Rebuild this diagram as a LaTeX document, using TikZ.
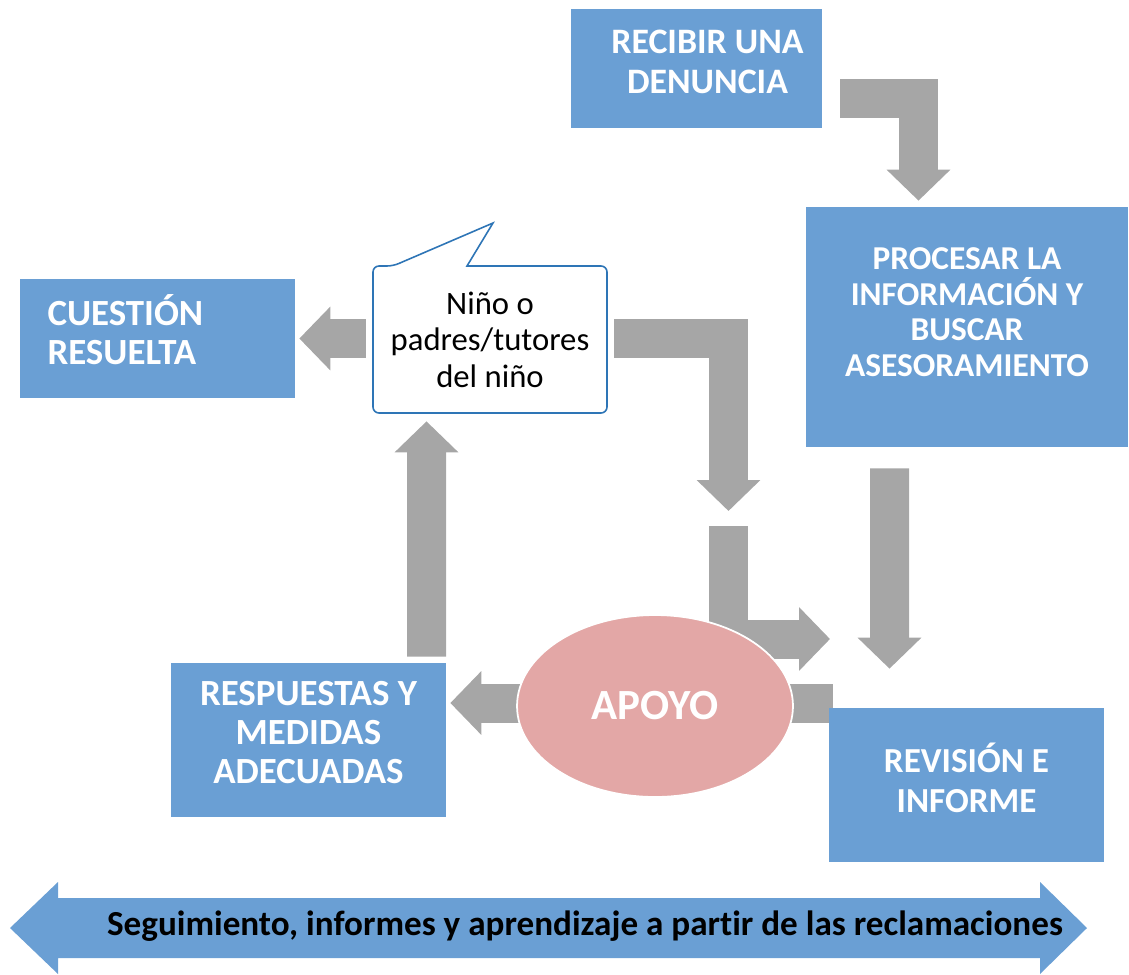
\documentclass[tikz,border=0pt]{standalone}
\usepackage{fontspec}
\setmainfont{Carlito}[Ligatures=NoCommon]
\usetikzlibrary{arrows.meta,shapes.geometric,calc,backgrounds}
\definecolor{boxblue}{RGB}{106,159,212}
\definecolor{arrowgray}{RGB}{166,166,166}
\definecolor{apoyopink}{RGB}{227,167,166}
\definecolor{calloutblue}{RGB}{46,117,182}
\begin{document}
\begin{tikzpicture}[x=0.02cm, y=-0.02cm,
  box/.style={fill=boxblue, text=white, font=\fontsize{20}{22.5}\selectfont\bfseries, align=center, inner sep=0pt},
  grayarrow/.style={draw=arrowgray, line width=0.78cm, -{Triangle[width=1.24cm,length=0.62cm]}}]
\pgfmathsetmacro{\W}{1129}
\pgfmathsetmacro{\H}{974}
\useasboundingbox (0,0) rectangle (\W,\H);
\node[box, minimum width=5.02cm, minimum height=2.38cm, text depth=8pt, font=\fontsize{20.4}{22.8}\selectfont\bfseries] (recibir) at (696.5,68.5) {\hspace*{0.44cm}RECIBIR UNA\\\hspace*{0.44cm}DENUNCIA};
\node[box, minimum width=6.44cm, minimum height=4.8cm, text depth=17pt, font=\fontsize{19}{20.2}\selectfont\bfseries] (procesar) at (967,327) {PROCESAR LA\\INFORMACIÓN Y\\BUSCAR\\ASESORAMIENTO};
\node[box, minimum width=5.5cm, minimum height=3.08cm, text depth=8pt] (revision) at (966.5,785) {REVISIÓN E\\INFORME};
\node[box, minimum width=5.5cm, minimum height=3.08cm, text depth=9pt, font=\fontsize{21}{22.3}\selectfont\bfseries] (respuestas) at (308.5,740) {RESPUESTAS Y\\MEDIDAS\\ADECUADAS};
\node[box, minimum width=5.5cm, minimum height=2.38cm, text width=4.4cm, inner xsep=0.55cm, align=left, text depth=32.5pt, font=\fontsize{21}{22.3}\selectfont\bfseries] (cuestion) at (157.5,338.5) {CUESTIÓN\\RESUELTA};
\coordinate (tip) at (493,223);
\draw[draw=calloutblue, line width=0.9pt, fill=white] (467,266) [rounded corners=0.12cm] -- (607,266) -- (607,413) -- (373,413) -- (373,266) -- (393,266) [sharp corners] -- (tip) -- cycle;
\node[minimum width=4.68cm, minimum height=2.94cm, align=center, font=\fontsize{18.6}{20.8}\selectfont] (nino) at (490,339.5) {Niño o\\padres/tutores\\del niño};
\node[ellipse, fill=apoyopink, draw=white, line width=1pt, minimum width=5.52cm, minimum height=3.64cm, text=white, font=\fontsize{24.5}{27}\selectfont\bfseries] (apoyo) at (655,706) {APOYO};
\coordinate (c1) at (728.5,511);
\coordinate (c2) at (728,526);
\coordinate (c3) at (830,639);
\begin{scope}[on background layer]
\draw[grayarrow] ($(recibir.east)+(18,30)$) -| ($(procesar.north)+(-48.5,-6)$);
\draw[grayarrow] ($(procesar.south)+(-77.5,21)$) -- ($(revision.north)+(-77,-39)$);
\draw[grayarrow] ($(nino.east)+(7,-1)$) -| (c1);
\draw[grayarrow] (c2) |- (c3);
\draw[grayarrow] ($(apoyo.east)+(39,-3)$) -- ($(respuestas.east)+(4,-37)$);
\draw[grayarrow] ($(respuestas.north)+(118,-6)$) -- ($(nino.south)+(-63.5,8)$);
\draw[grayarrow] ($(nino.west)+(-7,-1)$) -- ($(cuestion.east)+(4,0)$);
\end{scope}
\fill[boxblue] (10,928) -- (58,882) -- (58,898) -- (1040,898) -- (1040,882) -- (1087,928) -- (1040,974) -- (1040,958) -- (58,958) -- (58,974) -- cycle;
\node[font=\fontsize{20}{22}\selectfont\bfseries] (seguimiento) at (585,926) {Seguimiento, informes y aprendizaje a partir de las reclamaciones};
\end{tikzpicture}
\end{document}
